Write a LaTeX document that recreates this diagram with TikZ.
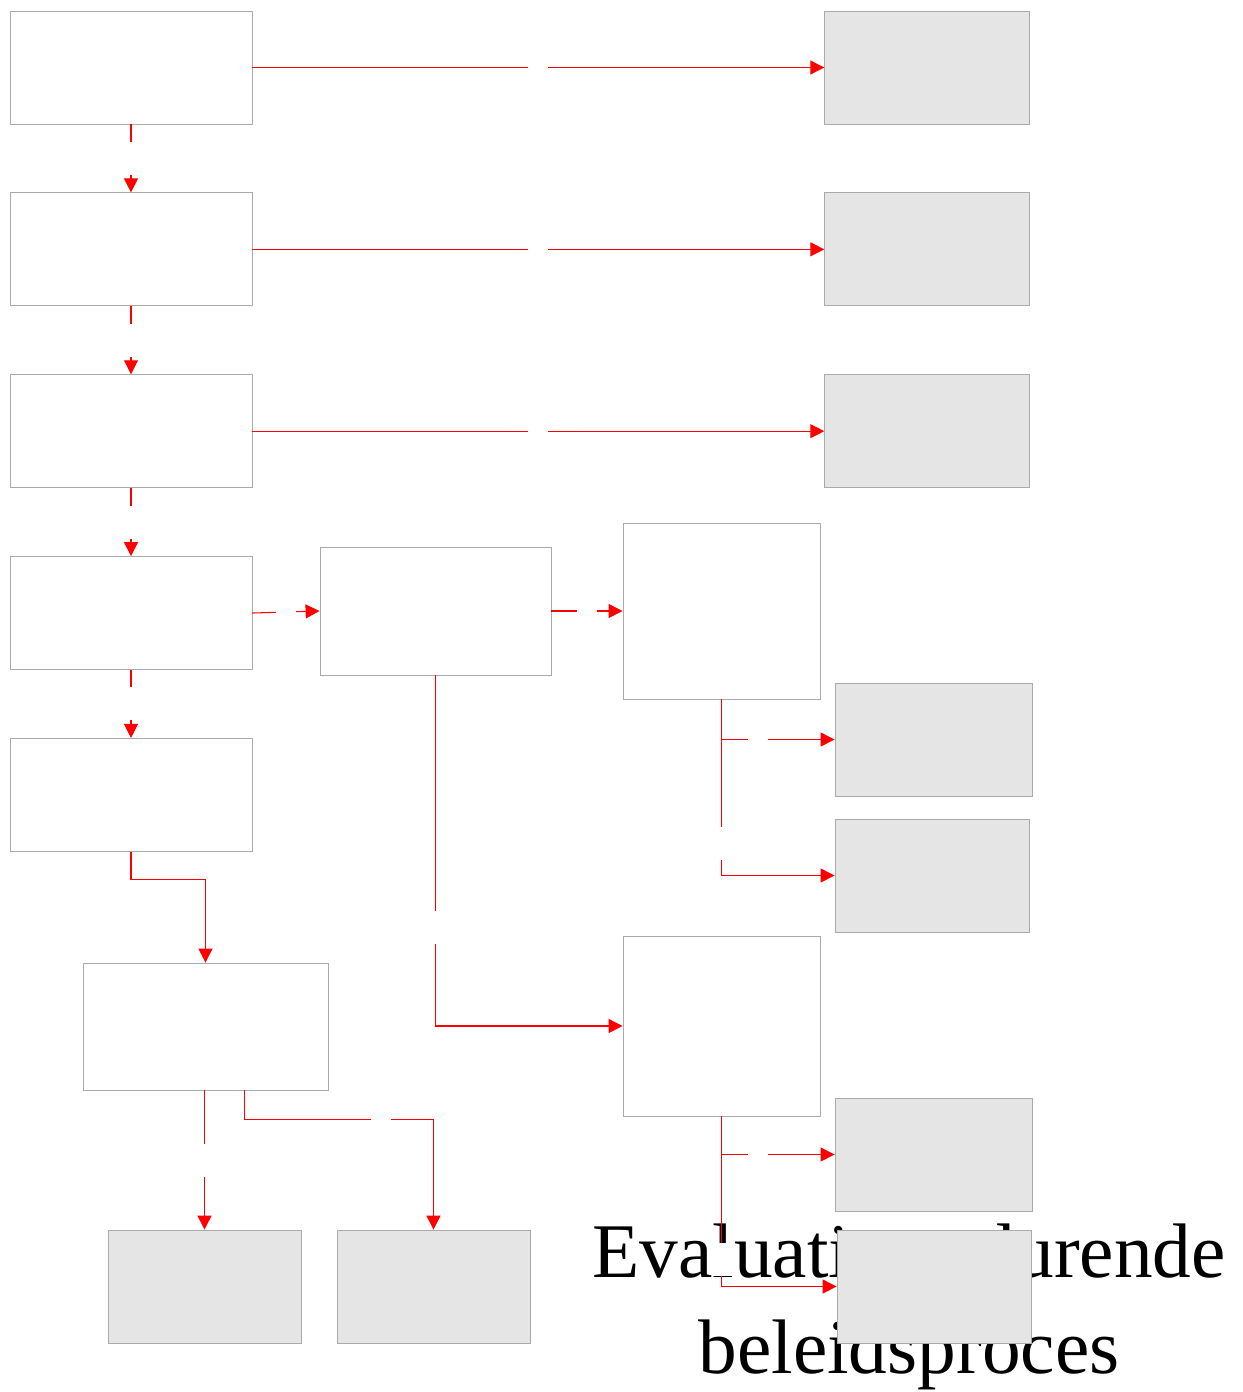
\documentclass[tikz,border=0pt]{standalone}
\usepackage{fontspec}
\setmainfont{Liberation Serif}
\usepackage{tikz}
\usepackage{xcolor}
\usetikzlibrary{arrows.meta, positioning}
\definecolor{BoxLine}{RGB}{170, 170, 170}
\definecolor{ResultGray}{RGB}{229, 229, 229}
\definecolor{FlowRed}{RGB}{255, 0, 0}

\begin{document}
\begin{tikzpicture}[
    x=0.02cm, y=-0.02cm,
    node distance=1.36cm,
    fase/.style={rectangle, draw=BoxLine, fill=white, line width=0.5pt, inner sep=0pt, minimum width=4.84cm, minimum height=2.26cm},
    result/.style={fase, fill=ResultGray, minimum width=3.9cm},
    labelgap/.style={rectangle, fill=white, inner sep=0pt, minimum width=0.4cm, minimum height=0.66cm},
    flow/.style={draw=FlowRed, line width=0.6pt, -{Triangle[length=0.28cm, width=0.28cm]}}
]
\useasboundingbox (0,0) rectangle (1243,1392);

% Title, drawn first so the boxes lie over it
\node[align=center, anchor=base, inner sep=0pt, font=\fontsize{44}{54.4}\selectfont] (titel) at (909,1373) {Evaluatie gedurende\\beleidsproces};

% Left column
\node[fase] (fase1) at (131,67.5) {};
\node[fase, below=of fase1] (fase2) {};
\node[fase, below=of fase2] (fase3) {};
\node[fase, below=of fase3] (fase4) {};
\node[fase, below=of fase4] (fase5) {};

% Right column
\node[result, minimum width=4.1cm, right=11.44cm of fase1] (res1) {};
\node[result, minimum width=4.1cm, right=11.44cm of fase2] (res2) {};
\node[result, minimum width=4.1cm, right=11.44cm of fase3] (res3) {};

% Middle part
\node[fase, minimum width=4.62cm, minimum height=2.56cm] (mid) at (435.5,611) {};
\node[fase, minimum width=3.94cm, minimum height=3.52cm] (evalA) at (721.5,611) {};
\node[result, minimum width=3.94cm] (res4) at (933.5,739.5) {};
\node[result, minimum width=3.88cm] (res5) at (932,875.5) {};
\node[fase, minimum width=3.94cm, minimum height=3.6cm] (evalB) at (721.5,1026) {};
\node[result, minimum width=3.94cm] (res6) at (933.5,1154.5) {};
\node[result, minimum width=3.88cm] (res7) at (934,1286.5) {};

% Bottom left
\node[fase, minimum width=4.9cm, minimum height=2.54cm] (keuze) at (205.5,1026.5) {};
\node[result, minimum width=3.86cm] (res8) at (204.5,1286.5) {};
\node[result, minimum width=3.86cm] (res9) at (433.5,1286.5) {};

% Connectors
\begin{scope}
\color{FlowRed}
\draw[flow] (fase1) -- node[labelgap] {} (res1);
\draw[flow] (fase2) -- node[labelgap] {} (res2);
\draw[flow] (fase3) -- node[labelgap] {} (res3);
\draw[flow] (fase1) -- node[labelgap] {} (fase2);
\draw[flow] (fase2) -- node[labelgap] {} (fase3);
\draw[flow] (fase3) -- node[labelgap] {} (fase4);
\draw[flow] (fase4) -- node[labelgap] {} (fase5);
\draw[flow] (fase4.east) -- node[labelgap] {} (mid.west);
\draw[flow] (mid.east) -- node[labelgap] {} (evalA.west);
\draw[flow] (evalA.south) |- node[labelgap, pos=0.66] {} (res4.west);
\draw[flow] (evalA.south) |- node[labelgap, pos=0.41] {} (res5.west);
\draw[flow] (mid.south) |- node[labelgap, pos=0.36] {} (evalB.west);
\draw[flow] (evalB.south) |- node[labelgap, pos=0.66] {} (res6.west);
\draw[flow] (evalB.south) |- node[labelgap, pos=0.42] {} (res7.west);
\draw[flow] (fase5.south) -- ++(0,28) -| (keuze.north);
\draw[flow] (res8.north |- keuze.south) -- node[labelgap] {} (res8.north);
\draw[flow] ([xshift=0.78cm]keuze.south) -- ++(0,29) -| node[labelgap, pos=0.36] {} (res9.north);
\end{scope}

\end{tikzpicture}
\end{document}
